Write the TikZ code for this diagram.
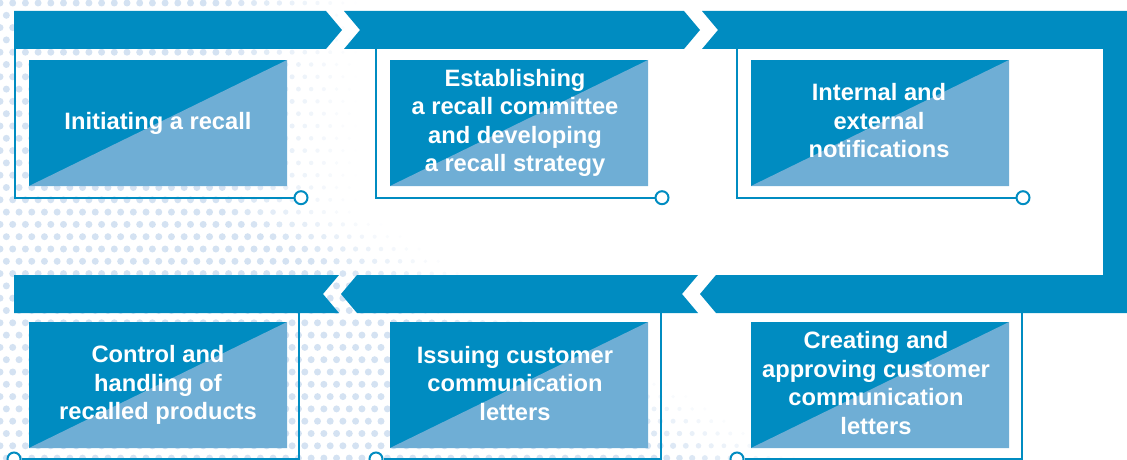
\documentclass[tikz,border=0pt]{standalone}
\usepackage{fontspec}
\setmainfont{Liberation Sans}
\definecolor{bandblue}{RGB}{0,140,193}
\definecolor{lightblue}{RGB}{111,174,213}
\definecolor{dotcol}{RGB}{212,226,242}
\tikzset{
  band/.style={fill=bandblue, draw=none},
  stepbox/.style={fill=bandblue, draw=none, minimum width=258, minimum height=126, inner sep=0pt,
    path picture={\fill[lightblue] (path picture bounding box.south west) -- (path picture bounding box.south east) -- (path picture bounding box.north east) -- cycle;}},
  steptext/.style={inner sep=0pt, text=white, align=center, font=\fontsize{23.7}{28.5}\selectfont\bfseries},
  frameline/.style={draw=bandblue, line width=2},
  endring/.style={circle, draw=bandblue, fill=white, line width=2, minimum size=13, inner sep=0pt}
}
\begin{document}
\begin{tikzpicture}[x=1pt, y=-1pt]
\useasboundingbox (0,0) rectangle (1127,460);
% halftone dots background
\foreach \j in {0,...,37} {
  \foreach \i in {0,...,66} {
    \pgfmathsetmacro\px{\i*12.7 + mod(\j,2)*6.35}
    \pgfmathsetmacro\py{\j*12.3 + 3}
    \pgfmathsetmacro\bnd{\py<210 ? 320 : 320+(\py-210)*1.8}
    \pgfmathsetmacro\inten{max(0,min(1,(\bnd+40-\px)/140))}
    \ifdim\inten pt>0.03pt
      \pgfmathsetmacro\rr{1.6+1.9*\inten}
      \fill[dotcol, opacity=\inten] (\px,\py) circle (\rr);
    \fi
  }
}
% bands with chevrons
\fill[band] (14,11) -- (326,11) -- (342,30) -- (326,49) -- (14,49) -- cycle;
\fill[band] (344,11) -- (684,11) -- (700,30) -- (684,49) -- (344,49) -- (360,30) -- cycle;
\fill[band] (702,11) -- (1127,11) -- (1127,313) -- (716,313) -- (700,294) -- (716,275)
  -- (1103,275) -- (1103,49) -- (702,49) -- (718,30) -- cycle;
\fill[band] (698,275) -- (357,275) -- (341,294) -- (357,313) -- (698,313) -- (682,294) -- cycle;
\fill[band] (339,275) -- (14,275) -- (14,313) -- (339,313) -- (323,294) -- cycle;
% frame anchor points
\coordinate (f1) at (15,49);
\coordinate (f2) at (376,49);
\coordinate (f3) at (737,49);
\coordinate (f4) at (299,313);
\coordinate (f5) at (661,313);
\coordinate (f6) at (1022,313);
% end rings
\node[endring] (r1) at (301,197.7) {};
\node[endring] (r2) at (662,197.7) {};
\node[endring] (r3) at (1023,197.7) {};
\node[endring] (r4) at (14,459) {};
\node[endring] (r5) at (376,459) {};
\node[endring] (r6) at (737,459) {};
% frame lines
\draw[frameline] (f1) |- (r1.west);
\draw[frameline] (f2) |- (r2.west);
\draw[frameline] (f3) |- (r3.west);
\draw[frameline] (f4) |- (r4.east);
\draw[frameline] (f5) |- (r5.east);
\draw[frameline] (f6) |- (r6.east);
% step boxes
\node[stepbox] (s1) at (158,123) {};
\node[stepbox] (s2) at (519,123) {};
\node[stepbox] (s3) at (880,123) {};
\node[stepbox] (s4) at (158,385) {};
\node[stepbox] (s5) at (519,385) {};
\node[stepbox] (s6) at (880,385) {};
% step texts
\node[steptext] (t1) at (s1.center) {Initiating a recall};
\node[steptext] (t2) at ([xshift=-4pt]s2.center) {Establishing\\a recall committee\\and developing\\a recall strategy};
\node[steptext] (t3) at ([xshift=-1pt,yshift=2.3pt]s3.center) {Internal and\\external\\notifications};
\node[steptext] (t4) at (s4.center) {Control and\\handling of\\recalled products};
\node[steptext] (t5) at ([xshift=-4pt,yshift=1.5pt]s5.center) {Issuing customer\\communication\\letters};
\node[steptext] (t6) at ([xshift=-4pt,yshift=2pt]s6.center) {Creating and\\approving customer\\communication\\letters};
\end{tikzpicture}
\end{document}
